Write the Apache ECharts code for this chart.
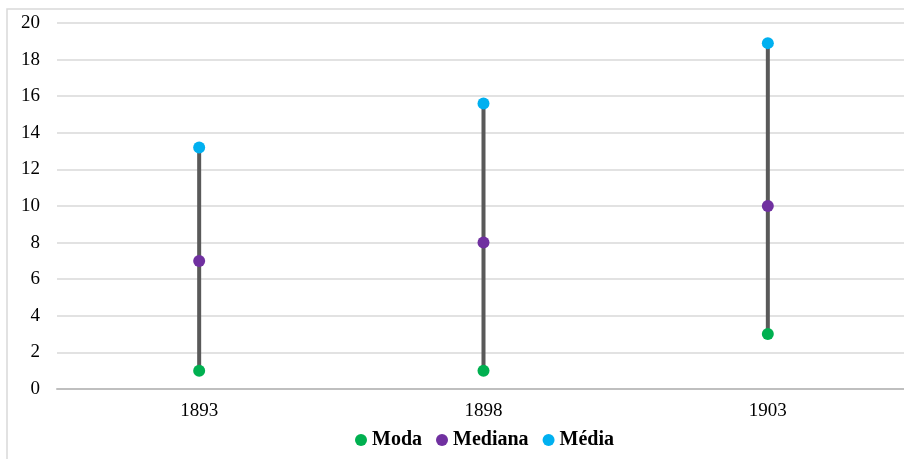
<!DOCTYPE html>
<html><head><meta charset="utf-8">
<script src="https://cdn.jsdelivr.net/npm/echarts@6/dist/echarts.min.js"></script>
<style>html,body{margin:0;padding:0;background:#fff}#c{width:904px;height:459px}</style>
</head><body><div id="c"></div>
<script>
const categories = ['1893', '1898', '1903'];
const moda = [1, 1, 3];
const mediana = [7, 8, 10];
const media = [13.2, 15.6, 18.9];
const yTicks = [0, 2, 4, 6, 8, 10, 12, 14, 16, 18, 20];

const chart = echarts.init(document.getElementById('c'));
const font = '"Liberation Serif", "Times New Roman", serif';
const rangeData = categories.map((c, i) => [i, Math.min(moda[i], mediana[i], media[i]), Math.max(moda[i], mediana[i], media[i])]);

chart.setOption({
  animation: false,
  graphic: [{type: 'rect', shape: {x: 7, y: 9, width: 920, height: 470}, style: {fill: 'none', stroke: '#D9D9D9', lineWidth: 1.5}, z: -1}],
  grid: {left: 57, right: -6, top: 23, bottom: 70, outerBoundsMode: 'none', containLabel: false},
  xAxis: {
    type: 'category', data: categories, boundaryGap: true,
    axisLine: {lineStyle: {color: '#BFBFBF', width: 2}},
    axisTick: {show: false},
    axisLabel: {color: '#000', fontFamily: font, fontSize: 19, margin: 13}
  },
  yAxis: {
    type: 'value', min: yTicks[0], max: yTicks[yTicks.length - 1], interval: 2,
    axisLine: {show: false}, axisTick: {show: false},
    splitLine: {lineStyle: {color: '#D9D9D9', width: 1.5}},
    axisLabel: {color: '#000', fontFamily: font, fontSize: 19, margin: 17}
  },
  legend: {
    bottom: 4, left: 350, itemWidth: 12, itemHeight: 12, itemGap: 14,
    textStyle: {fontFamily: font, fontSize: 20, fontWeight: 'bold', color: '#000'},
    data: [{name: 'Moda', icon: 'circle'}, {name: 'Mediana', icon: 'circle'}, {name: 'Média', icon: 'circle'}]
  },
  series: [
    {
      type: 'custom', name: 'range', data: rangeData, z: 1,
      renderItem: function (params, api) {
        const p1 = api.coord([api.value(0), api.value(1)]);
        const p2 = api.coord([api.value(0), api.value(2)]);
        return {type: 'line', shape: {x1: p1[0], y1: p1[1], x2: p2[0], y2: p2[1]}, style: {stroke: '#595959', lineWidth: 4}};
      }
    },
    {type: 'scatter', name: 'Moda', data: moda, symbolSize: 12, itemStyle: {color: '#00B050', opacity: 1}, z: 3},
    {type: 'scatter', name: 'Mediana', data: mediana, symbolSize: 12, itemStyle: {color: '#7030A0', opacity: 1}, z: 3},
    {type: 'scatter', name: 'Média', data: media, symbolSize: 12, itemStyle: {color: '#00B0F0', opacity: 1}, z: 3}
  ]
});
</script></body></html>
